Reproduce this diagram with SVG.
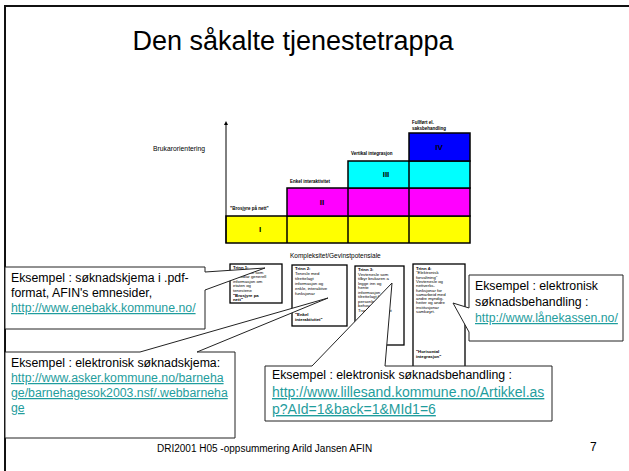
<svg xmlns="http://www.w3.org/2000/svg" width="629" height="471" viewBox="0 0 629 471">
<style>
.t{font-family:"Liberation Sans",Arial,sans-serif;fill:#000}
.ti{font-family:"Liberation Sans",Arial,sans-serif;font-size:4.3px;fill:#000}
.b{font-weight:bold}
.co{font-family:"Liberation Sans",Arial,sans-serif;font-size:12.3px;fill:#000}
.big{font-size:14px}
.lk{fill:#1f9d9d;text-decoration:underline}
.tb{fill:#fff;stroke:#000;stroke-width:1.3}
.cl{fill:#fff;stroke:#222;stroke-width:1}
.st{stroke:#000;stroke-width:1.5}
</style>
<defs>
<marker id="ah" markerWidth="4" markerHeight="4" refX="2" refY="2" orient="auto"><path d="M0,0 L4,2 L0,4 Z" fill="#000"/></marker>
</defs>
<rect width="629" height="471" fill="#fff"/>
<path d="M5,471 V6 H629" fill="none" stroke="#111" stroke-width="2"/>
<text class="t" x="293" y="50" font-size="27" text-anchor="middle">Den såkalte tjenestetrappa</text>

<g id="chart">
<rect x="226" y="216" width="244" height="27" fill="#ffff00" class="st"/>
<rect x="287" y="188" width="183" height="28" fill="#ff00ff" class="st"/>
<rect x="348" y="161" width="122" height="27" fill="#00ffff" class="st"/>
<rect x="409" y="133" width="61" height="28" fill="#0000ff" class="st"/>
<line x1="287" y1="216" x2="287" y2="243" class="st"/>
<line x1="348" y1="188" x2="348" y2="243" class="st"/>
<line x1="409" y1="161" x2="409" y2="243" class="st"/>
<line x1="226" y1="243" x2="226" y2="123" stroke="#000" stroke-width="1" marker-end="url(#ah)"/>
<text class="t b" x="260" y="232" font-size="8" text-anchor="middle">I</text>
<text class="t b" x="322" y="205" font-size="8" text-anchor="middle">II</text>
<text class="t b" x="386" y="177" font-size="8" text-anchor="middle">III</text>
<text class="t b" x="439" y="150" font-size="8" text-anchor="middle" fill="#000033">IV</text>
<text class="t" x="153" y="151" font-size="6.8">Brukarorientering</text>
<text class="t" x="290" y="258" font-size="6.5">Kompleksitet/Gevinstpotensiale</text>
<text class="t b" x="230" y="210" font-size="4.5">"Brosjyre på nett"</text>
<text class="t b" x="290" y="183" font-size="4.5">Enkel interaktivitet</text>
<text class="t b" x="351" y="155" font-size="4.5">Vertikal integrasjon</text>
<text class="t b" x="412" y="124" font-size="4.5">Fullført el.</text>
<text class="t b" x="412" y="130" font-size="4.5">saksbehandling</text>
</g>

<g id="trinn1">
<rect x="230" y="264" width="52" height="39" class="tb"/>
<text class="ti"><tspan x="233" y="269" class="b">Trinn 1:</tspan><tspan x="233" y="273.6">Vevtenesle som</tspan><tspan x="233" y="278.2">formidlar generell</tspan><tspan x="233" y="282.8">informasjon om</tspan><tspan x="233" y="287.4">etaten og</tspan><tspan x="233" y="292">tenestene</tspan><tspan x="233" y="296.6" class="b">"Brosjyre på</tspan><tspan x="233" y="301.2" class="b">nett"</tspan></text>
</g>
<g id="trinn2">
<rect x="292" y="265" width="55" height="61" class="tb"/>
<text class="ti"><tspan x="295" y="270" class="b">Trinn 2:</tspan><tspan x="295" y="275">Tenesle med</tspan><tspan x="295" y="280">tilrettelagt</tspan><tspan x="295" y="285">informasjon og</tspan><tspan x="295" y="290">enkle, interaktive</tspan><tspan x="295" y="295">funksjonar</tspan><tspan x="295" y="316" class="b">"Enkel</tspan><tspan x="295" y="321" class="b">interaktivitet"</tspan></text>
</g>
<g id="trinn3">
<rect x="355" y="266" width="49" height="79" class="tb"/>
<text class="ti"><tspan x="358" y="271" class="b">Trinn 3:</tspan><tspan x="358" y="275.5">Vevtenesle som</tspan><tspan x="358" y="280">tilbyr brukaren å</tspan><tspan x="358" y="284.5">legge inn og</tspan><tspan x="358" y="289">hente</tspan><tspan x="358" y="293.5">informasjon</tspan><tspan x="358" y="298">tilrettelagt for</tspan><tspan x="358" y="302.5">personlege</tspan><tspan x="358" y="307">behov.</tspan><tspan x="358" y="311.5">Transaksjon/kjøpt</tspan></text>
</g>
<g id="trinn4">
<rect x="413" y="264" width="52" height="104" class="tb"/>
<text class="ti"><tspan x="416" y="270" class="b">Trinn 4:</tspan><tspan x="416" y="274.3">"Elektronisk</tspan><tspan x="416" y="278.6">forvaltning"</tspan><tspan x="416" y="282.9">Vevtenesle og</tspan><tspan x="416" y="287.2">nettverks-</tspan><tspan x="416" y="291.5">funksjonar for</tspan><tspan x="416" y="295.8">samarbeid med</tspan><tspan x="416" y="300.1">andre myndig-</tspan><tspan x="416" y="304.4">heiter og andre</tspan><tspan x="416" y="308.7">institusjonar</tspan><tspan x="416" y="313">samkøyrt.</tspan><tspan x="416" y="353" class="b">"Horisontal</tspan><tspan x="416" y="358" class="b">integrasjon"</tspan></text>
</g>

<g id="callout-enebakk">
<path d="M5,267 H205 V272 L265,268 L205,290 V329 H5 Z" class="cl"/>
<text class="co"><tspan x="11" y="282">Eksempel : søknadskjema i .pdf-</tspan><tspan x="11" y="297">format, AFIN's emnesider,</tspan><tspan x="11" y="312" class="lk">http://www.enebakk.kommune.no/</tspan></text>
</g>
<g id="callout-asker">
<path d="M5,352 H140 L328,298 L197,352 H235 V438 H5 Z" class="cl"/>
<text class="co"><tspan x="11" y="367">Eksempel : elektronisk søknadskjema:</tspan><tspan x="11" y="382" class="lk">http://www.asker.kommune.no/barneha</tspan><tspan x="11" y="397" class="lk">ge/barnehagesok2003.nsf/.webbarneha</tspan><tspan x="11" y="412" class="lk">ge</tspan></text>
</g>
<g id="callout-lanekassen">
<path d="M469,275 H623 V341 H469 V332 L453,303 L469,308 Z" class="cl"/>
<text class="co"><tspan x="475" y="290">Eksempel : elektronisk</tspan><tspan x="475" y="306">søknadsbehandling :</tspan><tspan x="475" y="322" class="lk">http://www.lånekassen.no/</tspan></text>
</g>
<g id="callout-lillesand">
<path d="M265,366 H312 L392,283 L385,366 H552 V421 H265 Z" class="cl"/>
<text class="co"><tspan x="272" y="379">Eksempel : elektronisk søknadsbehandling :</tspan></text>
<text class="co big"><tspan x="272" y="397" class="lk">http://www.lillesand.kommune.no/Artikkel.as</tspan><tspan x="272" y="414" class="lk">p?AId=1&amp;back=1&amp;MId1=6</tspan></text>
</g>

<text class="t" x="157" y="452" font-size="10">DRI2001 H05 -oppsummering Arild Jansen  AFIN</text>
<text class="t" x="590" y="451" font-size="12">7</text>
</svg>
